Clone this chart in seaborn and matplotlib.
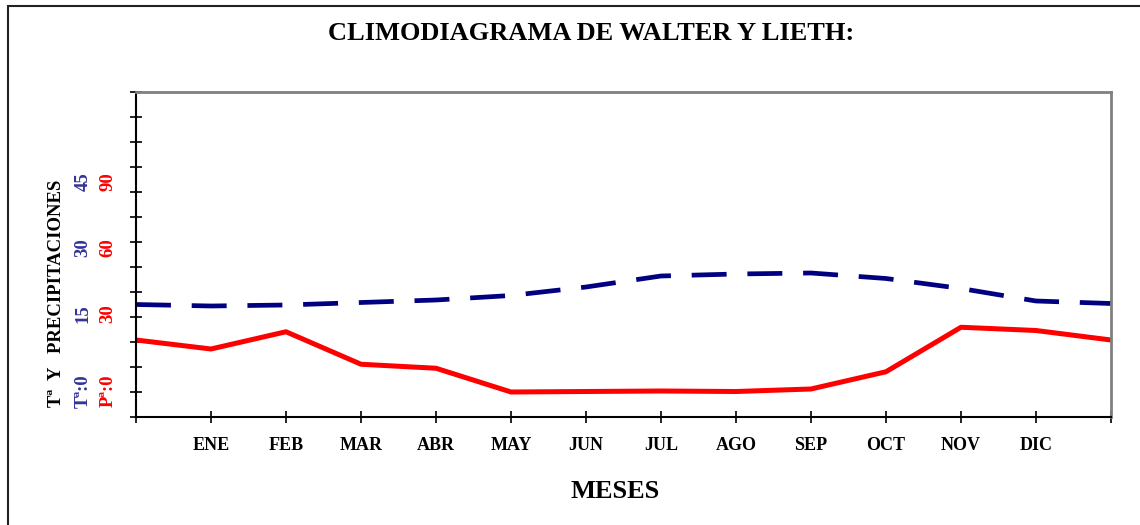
import numpy as np
import pandas as pd
import matplotlib
matplotlib.use("Agg")
import matplotlib.pyplot as plt
from matplotlib.patches import Rectangle
import seaborn as sns

# Data (first and last points close the year)
months = ['', 'ENE', 'FEB', 'MAR', 'ABR', 'MAY', 'JUN', 'JUL', 'AGO', 'SEP', 'OCT', 'NOV', 'DIC', '']
precip = [20.8, 17.2, 24.1, 11.1, 9.5, 0.0, 0.2, 0.4, 0.2, 1.2, 8.1, 25.9, 24.6, 20.8]   # mm
temp = [17.5, 17.2, 17.4, 17.9, 18.4, 19.3, 21.0, 23.2, 23.6, 23.8, 22.7, 20.7, 18.2, 17.7]  # ºC

df = pd.DataFrame({'pos': np.arange(len(months)), 'P': precip, 'T2': [2 * t for t in temp]})

sns.set_style("white")
plt.rcParams['font.family'] = ['Liberation Serif', 'DejaVu Serif']
plt.rcParams['font.weight'] = 'bold'
plt.rcParams['text.color'] = 'black'
plt.rcParams['xtick.color'] = 'black'
plt.rcParams['ytick.color'] = 'black'

fig = plt.figure(figsize=(11.4, 5.25), dpi=100)
W, H = 1140, 525
ax = fig.add_axes([136 / W, 1 - 417 / H, (1111 - 136) / W, (417 - 92) / H])

sns.lineplot(data=df, x='pos', y='T2', ax=ax, color='#000080', linewidth=3.4)
ax.lines[-1].set_dashes([7.4, 4.4])
ax.lines[-1].set_dash_capstyle('butt')
sns.lineplot(data=df, x='pos', y='P', ax=ax, color='#FF0000', linewidth=3.6)

ax.set_xlim(0, len(months) - 1)
ax.set_ylim(-10, 120)
ax.set_xticks(df['pos'])
ax.set_xticklabels(months, fontsize=13, fontweight='bold')
ax.set_yticks(np.arange(-10, 121, 10))
ax.set_yticklabels([])
ax.tick_params(axis='both', direction='inout', length=8.5, width=1.2, color='black',
               bottom=True, left=True, labelcolor='black')
ax.tick_params(axis='x', pad=10)
ax.set_xlabel('')
ax.set_ylabel('')

for side in ['left', 'bottom']:
    ax.spines[side].set_color('black')
    ax.spines[side].set_linewidth(1.5)
for side in ['top', 'right']:
    ax.spines[side].set_visible(True)
    ax.spines[side].set_color('#808080')
    ax.spines[side].set_linewidth(2)

# titles
fig.text(591 / W, 1 - 33 / H, 'CLIMODIAGRAMA DE WALTER Y LIETH:', ha='center', va='center',
         fontsize=19, fontweight='bold')
fig.text(615 / W, 1 - 492 / H, 'MESES', ha='center', va='center', fontsize=19, fontweight='bold')

# rotated y-axis legend text
fig.text(57 / W, 1 - 407 / H, 'Tª  Y   PRECIPITACIONES', rotation=90, ha='center', va='bottom',
         fontsize=13.5, fontweight='bold', color='black')
t_labels = ['Tª:0', '15', '30', '45']
p_labels = ['Pª:0', '30', '60', '90']
label_y = [391, 314, 248, 182]
for lab, y in zip(t_labels, label_y):
    fig.text(83 / W, 1 - y / H, lab, rotation=90, ha='center', va='center',
             fontsize=13.5, fontweight='bold', color='#333399')
for lab, y in zip(p_labels, label_y):
    fig.text(108 / W, 1 - y / H, lab, rotation=90, ha='center', va='center',
             fontsize=13.5, fontweight='bold', color='#FF0000')

# outer chart border
fig.patches.append(Rectangle((8 / W, -0.1), 1.2, 1 - 6 / H + 0.1, transform=fig.transFigure,
                             fill=False, edgecolor='#222222', linewidth=1.5))

fig.savefig('out.png', dpi=100)
